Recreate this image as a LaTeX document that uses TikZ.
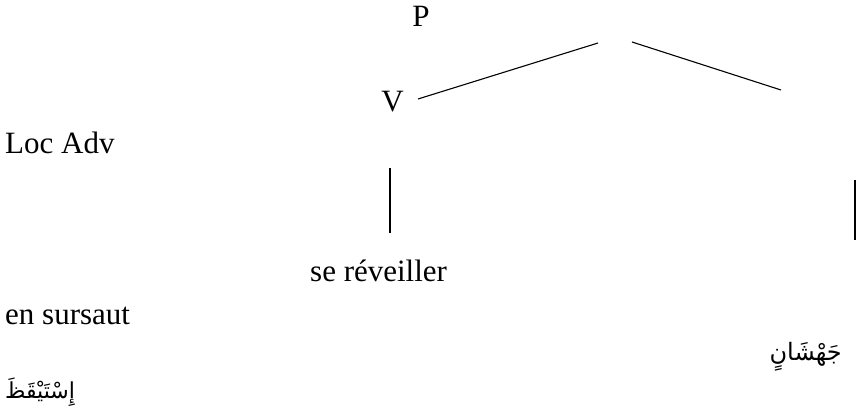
\documentclass[tikz,border=0pt]{standalone}
\usepackage{fontspec}
\setmainfont{Liberation Serif}
\newfontfamily\arabicfont[Script=Arabic]{DejaVu Sans}
\TeXXeTstate=1
\begin{document}
\begin{tikzpicture}[x=1pt,y=-1pt,
  lbl/.style={inner sep=0pt,font=\fontsize{31}{31}\selectfont},
  ar/.style={inner sep=0pt,font=\arabicfont\fontsize{22}{22}\selectfont},
  edge/.style={line width=1.1pt}]
\useasboundingbox (0,0) rectangle (856,411);
\node[lbl,anchor=base] (P) at (421,27) {P};
\node[lbl,anchor=base] (V) at (392.5,112) {V};
\node[lbl,anchor=base west] (loc) at (5,154) {Loc Adv};
\node[lbl,anchor=base west] (se) at (310,282) {se réveiller};
\node[lbl,anchor=base west] (en) at (5,325) {en sursaut};
\node[ar,anchor=base east,font=\arabicfont\fontsize{24}{24}\selectfont] (jah) at (842,360) {\beginR جَهْشَانٍ\endR};
\node[ar,anchor=base west] (ist) at (5,398) {\beginR إِسْتَيْقَظَ\endR};
\coordinate (a1) at (418,99);
\coordinate (a2) at (598,43);
\coordinate (b1) at (632,42);
\coordinate (b2) at (781,90);
\coordinate (c1) at (390,168);
\coordinate (c2) at (390,233);
\coordinate (d1) at (855,180);
\coordinate (d2) at (855,240);
\draw[edge] (a1) -- (a2);
\draw[edge] (b1) -- (b2);
\draw[edge] (c1) -- (c2);
\draw[edge] (d1) -- (d2);
\end{tikzpicture}
\end{document}
